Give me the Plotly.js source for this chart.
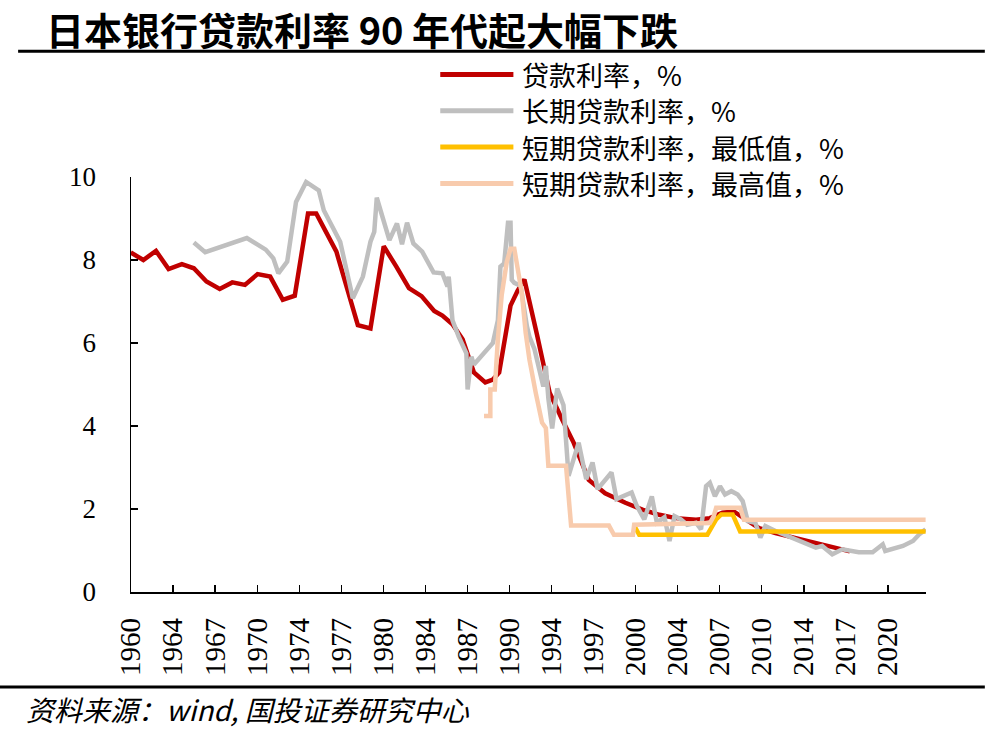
<!DOCTYPE html>
<html>
<head>
<meta charset="utf-8">
<script src="https://cdn.plot.ly/plotly-3.0.1.min.js"></script>
<style>
html,body{margin:0;padding:0;background:#fff;}
#chart{width:1000px;height:731px;}
</style>
</head>
<body>
<div id="chart"></div>
<script>
// ---- Data (decimal years, %) ----
const loanRateX = [1960.9,1961.9,1962.9,1963.9,1964.95,1965.9,1966.9,1967.95,1968.95,1969.95,1970.95,1971.95,1972.95,1973.9,1974.95,1975.6,1977.2,1978.9,1979.9,1980.95,1981.95,1982.95,1983.95,1984.95,1985.6,1986.4,1987.2,1988.1,1989.0,1989.6,1990.1,1990.4,1991.0,1991.55,1992.1,1993.1,1994.1,1995.1,1996.0,1997.2,1998.5,2000.1,2001.5,2002.8,2004.1,2005.7,2006.8,2007.8,2008.7,2009.7,2010.7,2012.0,2013.6,2015.2,2016.8,2017.9];
const loanRateY = [8.18,8.0,8.22,7.78,7.9,7.8,7.48,7.3,7.46,7.4,7.66,7.6,7.04,7.14,9.12,9.12,8.2,6.43,6.35,8.33,7.84,7.32,7.13,6.77,6.66,6.45,6.09,5.29,5.05,5.12,5.29,5.85,6.9,7.25,7.53,6.2,4.8,4.15,3.6,2.7,2.38,2.15,1.98,1.86,1.78,1.74,1.78,1.91,1.94,1.74,1.54,1.42,1.3,1.18,1.06,0.98];

const longRateX = [1965.9,1966.8,1970.1,1971.6,1972.2,1972.6,1973.3,1974.0,1974.8,1975.8,1976.2,1977.5,1978.5,1979.3,1979.9,1980.2,1980.4,1980.9,1981.4,1982.0,1982.4,1982.8,1983.3,1984.0,1984.9,1985.6,1986.0,1986.1,1986.4,1986.9,1987.5,1987.6,1987.9,1988.1,1989.6,1990.0,1990.2,1990.5,1990.8,1991.0,1991.1,1991.3,1991.8,1992.3,1992.5,1992.9,1993.2,1993.6,1993.8,1994.0,1994.3,1994.7,1995.2,1995.6,1996.4,1997.0,1997.5,1997.9,1999.0,1999.4,2000.6,2001.0,2001.6,2002.2,2002.6,2003.2,2003.6,2004.0,2004.5,2005.0,2005.7,2006.1,2006.5,2006.8,2007.2,2007.6,2008.0,2008.5,2009.0,2009.4,2009.8,2010.4,2010.8,2011.2,2012.0,2012.6,2013.4,2014.2,2015.2,2015.7,2016.5,2017.3,2018.6,2019.7,2020.5,2020.7,2022.1,2022.9,2023.4,2023.9];
const longRateY = [8.42,8.19,8.53,8.25,8.04,7.68,7.96,9.4,9.88,9.68,9.2,8.44,7.08,7.6,8.44,8.68,9.5,8.95,8.48,8.88,8.38,8.9,8.4,8.2,7.7,7.68,7.36,7.6,6.55,6.15,5.75,4.88,5.67,5.48,6.0,6.55,7.84,7.92,8.9,8.9,7.52,7.45,7.38,6.4,6.15,5.85,5.47,4.95,5.45,4.66,3.94,4.9,4.5,2.8,3.6,2.72,3.12,2.48,2.88,2.24,2.4,2.08,1.75,2.3,1.67,1.8,1.23,1.83,1.75,1.62,1.67,1.51,2.55,2.63,2.31,2.55,2.35,2.43,2.35,2.19,1.71,1.67,1.31,1.59,1.47,1.39,1.31,1.19,1.07,1.11,0.91,1.03,0.96,0.96,1.15,0.99,1.11,1.23,1.39,1.51];

const shortMinX = [2000.8,2001.2,2006.6,2007.3,2007.7,2008.6,2009.2,2023.9];
const shortMinY = [1.6,1.38,1.38,1.75,1.87,1.87,1.46,1.46];

const shortMaxX = [1988.9,1989.4,1989.4,1989.75,1990.0,1990.3,1990.7,1991.0,1991.3,1991.6,1991.9,1992.2,1992.5,1993.0,1993.5,1993.8,1994.0,1995.4,1995.6,1995.8,1998.8,1999.2,2000.7,2000.8,2006.8,2007.1,2007.3,2009.2,2009.5,2023.9];
const shortMaxY = [4.24,4.24,4.88,4.88,6.1,7.15,7.95,8.27,8.27,7.78,7.2,6.25,5.6,4.8,4.08,3.95,3.04,3.04,2.4,1.6,1.6,1.38,1.38,1.62,1.66,1.82,2.03,2.03,1.74,1.74];

const seriesNames = ["贷款利率，%","长期贷款利率，%","短期贷款利率，最低值，%","短期贷款利率，最高值，%"];
const tickLabels = ["1960","1964","1967","1970","1974","1977","1980","1984","1987","1990","1994","1997","2000","2004","2007","2010","2014","2017","2020"];
const chartTitle = "日本银行贷款利率 90 年代起大幅下跌";
const sourceNote = "资料来源：wind, 国投证券研究中心";

// ---- Axis geometry ----
const xStart = 1960.92, xEnd = 2023.93, tickStep = 10/3;
const tickVals = tickLabels.map((_, i) => xStart + i * tickStep);

const colors = ["#C00000","#BFBFBF","#FFC000","#F8CBAD"];
const lw = 4.5;

const traces = [
  {x: loanRateX, y: loanRateY, name: seriesNames[0]},
  {x: longRateX, y: longRateY, name: seriesNames[1]},
  {x: shortMinX, y: shortMinY, name: seriesNames[2]},
  {x: shortMaxX, y: shortMaxY, name: seriesNames[3]}
].map((t, i) => Object.assign(t, {type: 'scatter', mode: 'lines', line: {color: colors[i], width: lw}, hoverinfo: 'skip', showlegend: false}));

const serif = "Liberation Serif, Times New Roman, serif";
const cjk = "Noto Sans CJK SC, sans-serif";

// ---- Custom legend (paper coords) ----
const legX0 = 0.389, legX1 = 0.481, legTextX = 0.489;
const legY0 = 1.247, legDy = 0.0875;
const legendShapes = seriesNames.map((n, i) => ({
  type: 'line', xref: 'paper', yref: 'paper',
  x0: legX0, x1: legX1, y0: legY0 - i * legDy, y1: legY0 - i * legDy,
  line: {color: colors[i], width: 5}
}));
const legendTexts = seriesNames.map((n, i) => ({
  text: n, xref: 'paper', yref: 'paper', x: legTextX, y: legY0 - i * legDy,
  xanchor: 'left', yanchor: 'middle', showarrow: false,
  font: {family: cjk, size: 27, color: '#000'}
}));

const layout = {
  width: 1000, height: 731,
  margin: {l: 131, r: 74, t: 177, b: 139},
  paper_bgcolor: '#fff', plot_bgcolor: '#fff',
  showlegend: false,
  xaxis: {
    type: 'linear', range: [xStart, xEnd],
    tickmode: 'array', tickvals: tickVals, ticktext: tickLabels,
    tickangle: -90, ticks: 'inside', ticklen: 7, tickwidth: 1.3, tickcolor: '#000',
    showline: true, linecolor: '#000', linewidth: 1.5,
    showgrid: false, zeroline: false,
    ticklabelstandoff: 13,
    tickfont: {family: serif, size: 29, color: '#000'}
  },
  yaxis: {
    range: [0, 10], tickvals: [0,2,4,6,8,10],
    ticks: 'inside', ticklen: 7, tickwidth: 1.3, tickcolor: '#000',
    showline: true, linecolor: '#000', linewidth: 1.5,
    showgrid: false, zeroline: false,
    ticklabelstandoff: 28,
    tickfont: {family: serif, size: 27, color: '#000'}
  },
  shapes: [
    {type: 'line', xref: 'paper', yref: 'paper', x0: -0.142, x1: 1.074, y0: 1.303, y1: 1.303, line: {color: '#000', width: 3}},
    {type: 'line', xref: 'paper', yref: 'paper', x0: -0.17, x1: 1.074, y0: -0.229, y1: -0.229, line: {color: '#000', width: 3}}
  ].concat(legendShapes),
  annotations: [
    {text: "<b>" + chartTitle + "</b>", xref: 'paper', yref: 'paper', x: -0.109, y: 1.358,
     xanchor: 'left', yanchor: 'middle', showarrow: false, font: {family: cjk, size: 38, color: '#000'}},
    {text: "<i>" + sourceNote + "</i>", xref: 'paper', yref: 'paper', x: -0.135, y: -0.283,
     xanchor: 'left', yanchor: 'middle', showarrow: false, font: {family: cjk, size: 28, color: '#000'}}
  ].concat(legendTexts)
};

Plotly.newPlot('chart', traces, layout, {displayModeBar: false, staticPlot: true});
</script>
</body>
</html>
